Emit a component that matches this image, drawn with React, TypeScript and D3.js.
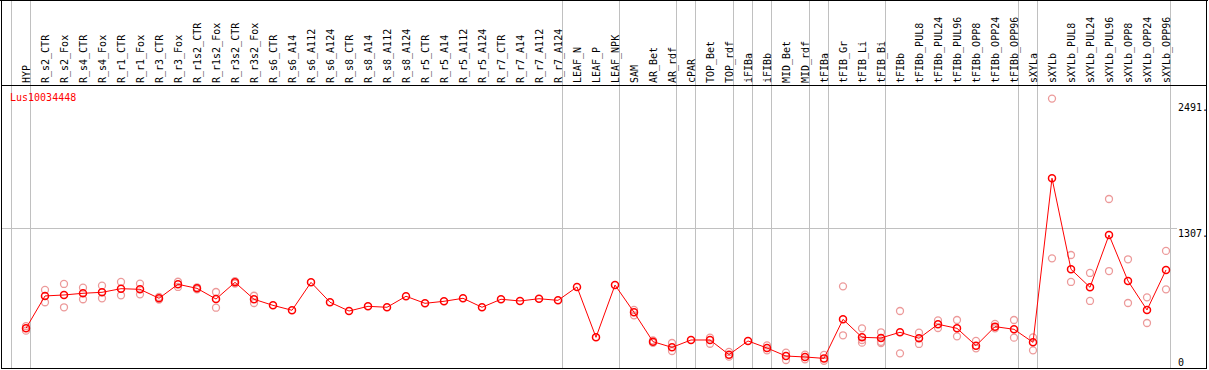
import React from "react";
import * as d3 from "d3";

const labels = [
  "HYP", "R_s2_CTR", "R_s2_Fox", "R_s4_CTR", "R_s4_Fox", "R_r1_CTR", "R_r1_Fox", "R_r3_CTR", "R_r3_Fox",
  "R_r1s2_CTR", "R_r1s2_Fox", "R_r3s2_CTR", "R_r3s2_Fox", "R_s6_CTR", "R_s6_A14", "R_s6_A112", "R_s6_A124",
  "R_s8_CTR", "R_s8_A14", "R_s8_A112", "R_s8_A124", "R_r5_CTR", "R_r5_A14", "R_r5_A112", "R_r5_A124",
  "R_r7_CTR", "R_r7_A14", "R_r7_A112", "R_r7_A124", "LEAF_N", "LEAF_P", "LEAF_NPK", "SAM", "AR_Bet", "AR_rdf",
  "cPAR", "TOP_Bet", "TOP_rdf", "iFIBa", "iFIBb", "MID_Bet", "MID_rdf", "tFIBa", "tFIB_Gr", "tFIB_Li", "tFIB_Bi",
  "tFIBb", "tFIBb_PUL8", "tFIBb_PUL24", "tFIBb_PUL96", "tFIBb_OPP8", "tFIBb_OPP24", "tFIBb_OPP96", "sXYLa",
  "sXYLb", "sXYLb_PUL8", "sXYLb_PUL24", "sXYLb_PUL96", "sXYLb_OPP8", "sXYLb_OPP24", "sXYLb_OPP96",
];

const means = [
  371, 674, 683, 699, 708, 742, 736, 652, 783, 745, 645, 801, 643, 586, 540, 801, 615, 533, 577, 568, 671,
  605, 624, 652, 568, 643, 627, 648, 633, 758, 287, 776, 521, 246, 193, 262, 262, 125, 253, 187, 112, 103,
  90, 455, 287, 281, 334, 278, 409, 371, 209, 387, 362, 240, 1775, 923, 755, 1244, 814, 543, 917,
];

const replicates: number[][] = [
  [349, 392], [730, 615], [786, 568], [751, 643], [770, 652], [805, 680], [789, 689], [640, 665], [807, 758],
  [735, 755], [711, 564], [790, 812], [676, 608], [], [], [], [], [], [], [], [], [], [], [], [], [], [], [], [],
  [], [], [], [543, 493], [235, 258], [234, 159], [], [284, 227], [150, 106], [], [212, 165], [143, 75],
  [125, 81], [122, 68], [764, 306], [371, 262, 237], [334, 245, 234], [533, 137], [330, 225], [446, 374],
  [449, 296], [253, 184], [412, 371], [449, 284], [287, 165], [2520, 1026], [1057, 805], [889, 627],
  [1581, 907], [1017, 608], [661, 421], [1095, 736],
];

const groupStarts = [0, 1, 29, 32, 35, 36, 38, 39, 40, 42, 43, 46, 53, 54, 61];
const yTicks = [0, 1307, 2491];
const yTickLabels = ["0", "1307.", "2491."];
const title = "Lus10034448";

const W = 1209;
const H = 370;
const FONT = "'DejaVu Sans Mono', monospace";

export default function App() {
  const x = d3.scaleLinear().domain([0, labels.length - 1]).range([26, 1166]);
  const y = d3.scaleLinear().domain([0, 2491]).range([368, 101.7]);
  const line = d3
    .line<number>()
    .x((_, i) => x(i))
    .y((d) => y(d));

  const pink = "#ec9a9a";
  const red = "#ff0000";
  const grey = "#c0c0c0";

  return (
    <div style={{ position: "fixed", left: 0, top: 0 }}>
      <svg width={W} height={H} style={{ display: "block", background: "#fff" }}>
        <rect x={0} y={0} width={W} height={H} fill="#fff" />
        {groupStarts.map((g) => (
          <line key={"g" + g} x1={x(g) - 14.5} x2={x(g) - 14.5} y1={0} y2={368} stroke={grey} strokeWidth={1} />
        ))}
        <line x1={1} x2={1177} y1={Math.round(y(1307)) + 0.5} y2={Math.round(y(1307)) + 0.5} stroke={grey} strokeWidth={1} />
        {/* borders */}
        <line x1={0} x2={1208} y1={0.5} y2={0.5} stroke="#000" />
        <line x1={1.5} x2={1.5} y1={0} y2={369} stroke="#000" />
        <line x1={1206.5} x2={1206.5} y1={0} y2={369} stroke="#000" />
        <line x1={1} x2={1207} y1={368.5} y2={368.5} stroke="#000" />
        <line x1={1} x2={1207} y1={85.5} y2={85.5} stroke="#000" />
        {labels.map((l, i) => (
          <text
            key={"l" + i}
            transform={`translate(${x(i) + 3.5},83) rotate(-90)`}
            fontFamily={FONT}
            fontSize={10}
            fill="#000"
          >
            {l}
          </text>
        ))}
        <text x={10} y={101} fontFamily={FONT} fontSize={10} fill={red}>
          {title}
        </text>
        {yTicks.map((t, i) => (
          <text key={"t" + i} x={1178} y={Math.min(y(t) + 9, 366)} fontFamily={FONT} fontSize={10} fill="#000">
            {yTickLabels[i]}
          </text>
        ))}
        {replicates.map((reps, i) =>
          reps.map((v, j) => (
            <circle key={`r${i}-${j}`} cx={x(i)} cy={y(v)} r={3.5} fill="none" stroke={pink} strokeWidth={1.3} />
          ))
        )}
        <path d={line(means) || ""} fill="none" stroke={red} strokeWidth={1} />
        {means.map((v, i) => (
          <circle key={"m" + i} cx={x(i)} cy={y(v)} r={3.5} fill="none" stroke={red} strokeWidth={1.5} />
        ))}
      </svg>
    </div>
  );
}
